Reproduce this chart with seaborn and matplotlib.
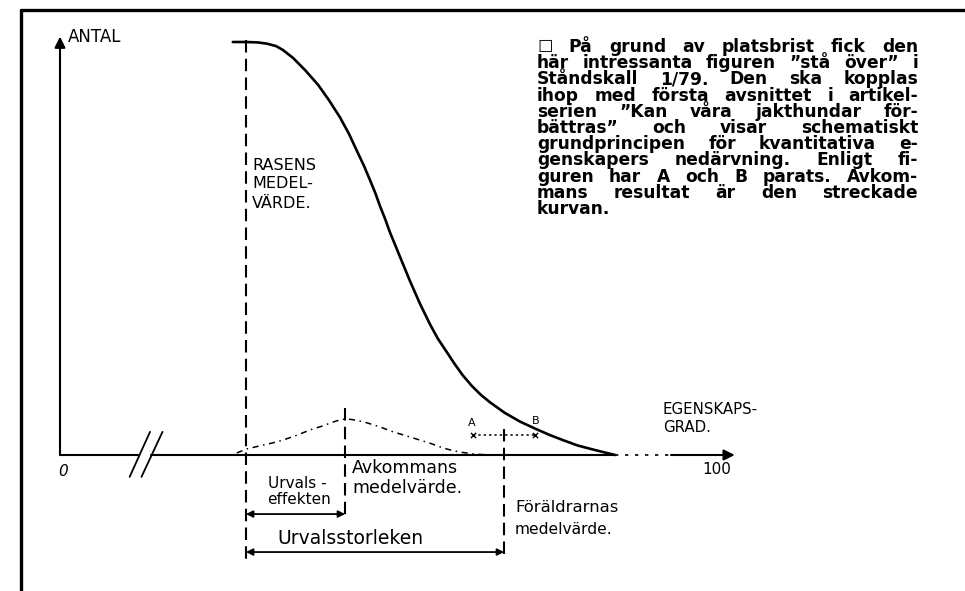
import matplotlib
matplotlib.use("Agg")
import matplotlib.pyplot as plt
from matplotlib.lines import Line2D
import seaborn as sns

# breed curve (solid): trait degree 0..100, count 0..100
breed_x = [26.3, 28.3, 30.1, 31.5, 32.9, 33.9, 35.5, 37.3, 39.3, 40.9, 42.6, 44.0,
           45.2, 46.3, 47.2, 48.0, 48.7, 49.5, 50.2, 51.0, 51.8, 53.3, 54.8, 56.3,
           57.5, 58.8, 60.0, 61.3, 62.7, 64.1, 65.5, 67.7, 70.0, 72.3, 74.6, 76.9,
           78.8, 80.7, 82.7, 84.5]
breed_y = [100.0, 100.0, 99.9, 99.6, 99.0, 98.1, 96.1, 93.2, 89.6, 86.0, 81.8, 77.7,
           73.6, 69.9, 66.5, 63.4, 60.3, 57.1, 54.0, 50.9, 47.8, 42.0, 36.6, 31.7,
           28.2, 25.1, 22.2, 19.3, 16.7, 14.5, 12.7, 10.2, 8.1, 6.4, 4.8, 3.4,
           2.3, 1.5, 0.7, 0.0]

# offspring curve (dotted)
offspring_x = [26.9, 28.5, 30.4, 32.3, 33.9, 36.1, 38.1, 39.9, 41.6, 42.6, 43.4, 44.4,
               45.7, 46.7, 48.7, 50.7, 52.8, 54.8, 56.6, 58.3, 59.7, 60.9, 63.2, 65.5]
offspring_y = [0.5, 1.5, 2.2, 2.9, 3.6, 4.8, 6.1, 7.0, 8.0, 8.5, 8.7, 8.6,
               8.2, 7.8, 6.8, 5.6, 4.6, 3.6, 2.7, 1.7, 1.1, 0.7, 0.2, 0.0]

breed_mean = 28.3
offspring_mean = 43.4
parent_a = 62.9
parent_b = 72.3
parents_mean = (parent_a + parent_b) / 2
parents_level = 4.8

text_lines = [
    "\u2610 På grund av platsbrist fick den",
    "här intressanta figuren ”stå över” i",
    "Ståndskall 1/79. Den ska kopplas",
    "ihop med första avsnittet i artikel-",
    "serien ”Kan våra jakthundar för-",
    "bättras” och visar schematiskt",
    "grundprincipen för kvantitativa e-",
    "genskapers nedärvning. Enligt fi-",
    "guren har A och B parats. Avkom-",
    "mans resultat är den streckade",
    "kurvan.",
]

W, H = 965, 591
OX, OY = 60, 455          # pixel position of the origin
SX, SY = 6.57, 4.13       # pixels per data unit


def at(px, py):
    return (px - OX) / SX, (OY - py) / SY


sns.set_theme(style="white")
plt.rcParams["font.family"] = ["DejaVu Sans"]
plt.rcParams["text.color"] = "black"

fig = plt.figure(figsize=(W / 100, H / 100), dpi=100)
ax = fig.add_axes([0, 0, 1, 1])
ax.set_xlim(-OX / SX, (W - OX) / SX)
ax.set_ylim(-(H - OY) / SY, OY / SY)
ax.axis("off")

# outer frame (left and top only)
fig.add_artist(Line2D([21 / W, 21 / W], [0, 1 - 10 / H], transform=fig.transFigure, color="black", lw=2.4))
fig.add_artist(Line2D([21 / W, 1], [1 - 10 / H, 1 - 10 / H], transform=fig.transFigure, color="black", lw=2.4))

# axes with arrows
ax.annotate("", xy=(0, 101.3), xytext=(0, 0),
            arrowprops=dict(arrowstyle="-|>", color="black", lw=1.5, mutation_scale=16, shrinkA=0, shrinkB=0))
ax.plot([0, 11.9], [0, 0], color="black", lw=1.5)
ax.plot([13.9, 84.5], [0, 0], color="black", lw=1.5)
ax.plot([84.5, 93.0], [0, 0], color="black", lw=1.2, linestyle=(0, (2, 4)))
ax.annotate("", xy=(102.7, 0), xytext=(93.0, 0),
            arrowprops=dict(arrowstyle="-|>", color="black", lw=1.5, mutation_scale=16, shrinkA=0, shrinkB=0))
# break marks
ax.plot([10.6, 13.7], [-5.3, 5.6], color="black", lw=1.3)
ax.plot([12.4, 15.6], [-5.3, 5.6], color="black", lw=1.3)

# curves
sns.lineplot(x=breed_x, y=breed_y, ax=ax, color="black", lw=1.9, estimator=None, sort=False)
sns.lineplot(x=offspring_x, y=offspring_y, ax=ax, color="black", lw=1.1, estimator=None, sort=False,
             linestyle=(0, (4, 3, 1, 3)))

# mean lines
dash = (0, (6, 3))
ax.plot([breed_mean, breed_mean], [100.6, -25.4], color="black", lw=1.5, linestyle=dash)
ax.plot([offspring_mean, offspring_mean], [11.4, -15.7], color="black", lw=1.5, linestyle=dash)
ax.plot([parents_mean, parents_mean], [6.3, -24.2], color="black", lw=1.5, linestyle=dash)

# parents A and B
ax.plot([parent_a, parent_b], [parents_level, parents_level], color="black", lw=1.1, linestyle=(0, (1.5, 2)))
ax.scatter([parent_a, parent_b], [parents_level, parents_level], marker="x", s=14, color="black", lw=1)

# dimension arrows
for x_end, y_lvl in [(offspring_mean, -14.3), (parents_mean, -23.5)]:
    ax.annotate("", xy=(x_end, y_lvl), xytext=(breed_mean, y_lvl),
                arrowprops=dict(arrowstyle="<|-|>", color="black", lw=1.3, mutation_scale=10,
                                shrinkA=0, shrinkB=0))

# handwritten labels
ax.text(*at(68, 37), "ANTAL", ha="left", va="center", fontsize=12)
ax.text(*at(63, 472), "0", ha="center", va="center", fontsize=11, style="italic")
ax.text(*at(717, 469), "100", ha="center", va="center", fontsize=11)
ax.text(*at(663, 410), "EGENSKAPS-", ha="left", va="center", fontsize=10.8)
ax.text(*at(663, 428), "GRAD.", ha="left", va="center", fontsize=10.8)
for i, s in enumerate(["RASENS", "MEDEL-", "VÄRDE."]):
    ax.text(*at(252, 165 + 19 * i), s, ha="left", va="center", fontsize=11.5)
ax.text(*at(472, 423), "A", ha="center", va="center", fontsize=8)
ax.text(*at(536, 421), "B", ha="center", va="center", fontsize=8)
ax.text(*at(297, 484), "Urvals -", ha="center", va="center", fontsize=11)
ax.text(*at(299, 500), "effekten", ha="center", va="center", fontsize=11)
ax.text(*at(352, 468), "Avkommans", ha="left", va="center", fontsize=12.5)
ax.text(*at(352, 488), "medelvärde.", ha="left", va="center", fontsize=12.5)
ax.text(*at(277, 539), "Urvalsstorleken", ha="left", va="center", fontsize=13.5)
ax.text(*at(515, 508), "Föräldrarnas", ha="left", va="center", fontsize=11.8)
ax.text(*at(515, 530), "medelvärde.", ha="left", va="center", fontsize=11.2)

# justified caption block
renderer = fig.canvas.get_renderer()
left_px, right_px, top_px, step_px = 537, 918, 47, 16.2
caption = dict(family=["DejaVu Sans"], weight="bold", fontsize=12.3,
               color="black", va="center", ha="left")
for i, line in enumerate(text_lines):
    y = 1 - (top_px + step_px * i) / H
    words = line.split(" ")
    if i == len(text_lines) - 1:
        fig.text(left_px / W, y, line, **caption)
        continue
    arts = [fig.text(0, y, w, **caption) for w in words]
    widths = [a.get_window_extent(renderer).width for a in arts]
    gap = (right_px - left_px - sum(widths)) / (len(words) - 1)
    pos = left_px
    for a, w in zip(arts, widths):
        a.set_x(pos / W)
        pos += w + gap

fig.savefig("out.png", dpi=100, facecolor="white")
